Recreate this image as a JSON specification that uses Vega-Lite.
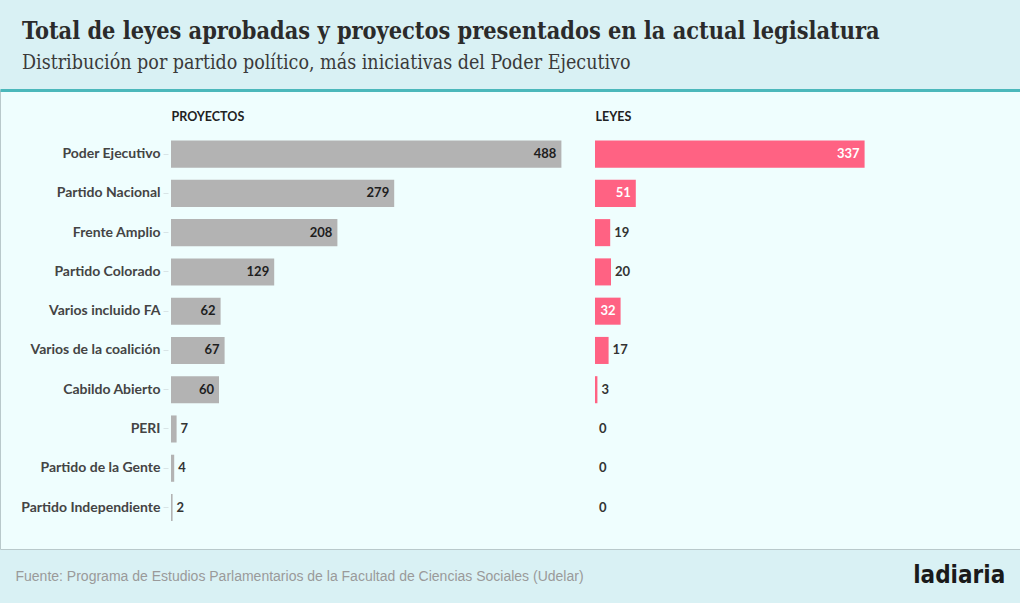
{
  "$schema": "https://vega.github.io/schema/vega-lite/v6.json",
  "width": 1020,
  "height": 459,
  "padding": {"top": 20, "bottom": 17, "left": 0, "right": 0},
  "autosize": {"type": "pad"},
  "background": "#d9f1f4",
  "title": {
    "text": "Total de leyes aprobadas y proyectos presentados en la actual legislatura",
    "subtitle": "Distribución por partido político, más iniciativas del Poder Ejecutivo",
    "anchor": "start",
    "frame": "group",
    "dx": 22,
    "offset": 17,
    "font": "DejaVu Serif Condensed",
    "fontSize": 23.3,
    "fontWeight": "bold",
    "color": "#2b2b2b",
    "subtitleFont": "DejaVu Serif Condensed",
    "subtitleFontSize": 19.5,
    "subtitleColor": "#3a3a3a",
    "subtitlePadding": 9
  },
  "data": {
    "values": [
      {"partido": "Poder Ejecutivo", "proyectos": 488, "leyes": 337},
      {"partido": "Partido Nacional", "proyectos": 279, "leyes": 51},
      {"partido": "Frente Amplio", "proyectos": 208, "leyes": 19},
      {"partido": "Partido Colorado", "proyectos": 129, "leyes": 20},
      {"partido": "Varios incluido FA", "proyectos": 62, "leyes": 32},
      {"partido": "Varios de la coalición", "proyectos": 67, "leyes": 17},
      {"partido": "Cabildo Abierto", "proyectos": 60, "leyes": 3},
      {"partido": "PERI", "proyectos": 7, "leyes": 0},
      {"partido": "Partido de la Gente", "proyectos": 4, "leyes": 0},
      {"partido": "Partido Independiente", "proyectos": 2, "leyes": 0}
    ]
  },
  "encoding": {
    "y": {
      "field": "partido",
      "type": "nominal",
      "sort": null,
      "scale": {"paddingInner": 0.311, "paddingOuter": 1.01, "align": 0.644},
      "axis": {
        "orient": "left",
        "offset": -168,
        "domain": false,
        "ticks": true,
        "tickSize": 5,
        "tickColor": "#d8e4e6",
        "labelPadding": 3,
        "labelFont": "Lato",
        "labelFontSize": 14,
        "labelFontWeight": "bold",
        "labelColor": "#444444",
        "labelLimit": 300,
        "title": null
      }
    }
  },
  "layer": [
    {
      "encoding": {
        "x": {
          "field": "proyectos",
          "type": "quantitative",
          "scale": {"domain": [0, 500], "range": [171, 571]},
          "axis": {
            "orient": "top",
            "domain": false,
            "ticks": false,
            "labels": false,
            "grid": false,
            "title": "PROYECTOS",
            "titleAnchor": "start",
            "titleAlign": "left",
            "titleBaseline": "middle",
            "titleY": 26,
            "titleFont": "Lato",
            "titleFontSize": 12.5,
            "titleFontWeight": "bold",
            "titleColor": "#222222"
          }
        }
      },
      "layer": [
        {"mark": {"type": "bar", "color": "#b3b3b3"}},
        {
          "transform": [{"filter": "datum.proyectos >= 25"}],
          "mark": {"type": "text", "align": "right", "baseline": "middle", "dx": -5, "font": "Lato", "fontSize": 13, "fontWeight": "bold", "color": "#1e1e1e"},
          "encoding": {"text": {"field": "proyectos", "type": "quantitative"}}
        },
        {
          "transform": [{"filter": "datum.proyectos < 25"}],
          "mark": {"type": "text", "align": "left", "baseline": "middle", "dx": 4, "font": "Lato", "fontSize": 13, "fontWeight": "bold", "color": "#333333"},
          "encoding": {"text": {"field": "proyectos", "type": "quantitative"}}
        }
      ]
    },
    {
      "encoding": {
        "x": {
          "field": "leyes",
          "type": "quantitative",
          "scale": {"domain": [0, 500], "range": [595, 995]},
          "axis": {
            "orient": "top",
            "domain": false,
            "ticks": false,
            "labels": false,
            "grid": false,
            "title": "LEYES",
            "titleAnchor": "start",
            "titleAlign": "left",
            "titleBaseline": "middle",
            "titleY": 26,
            "titleFont": "Lato",
            "titleFontSize": 12.5,
            "titleFontWeight": "bold",
            "titleColor": "#222222"
          }
        }
      },
      "layer": [
        {"mark": {"type": "bar", "color": "#ff6283"}},
        {
          "transform": [{"filter": "datum.leyes >= 25"}],
          "mark": {"type": "text", "align": "right", "baseline": "middle", "dx": -5, "font": "Lato", "fontSize": 13, "fontWeight": "bold", "color": "#ffffff"},
          "encoding": {"text": {"field": "leyes", "type": "quantitative"}}
        },
        {
          "transform": [{"filter": "datum.leyes < 25"}],
          "mark": {"type": "text", "align": "left", "baseline": "middle", "dx": 4, "font": "Lato", "fontSize": 13, "fontWeight": "bold", "color": "#333333"},
          "encoding": {"text": {"field": "leyes", "type": "quantitative"}}
        }
      ]
    },
    {
      "mark": {"type": "point", "opacity": 0, "size": 0},
      "encoding": {
        "x": {
          "datum": 0.5,
          "type": "quantitative",
          "scale": {"domain": [0, 1]},
          "axis": {
            "orient": "top",
            "domain": true,
            "domainColor": "#4bb8bb",
            "domainWidth": 3,
            "ticks": false,
            "labels": false,
            "grid": false,
            "title": null
          }
        }
      }
    },
    {
      "mark": {"type": "point", "opacity": 0, "size": 0},
      "encoding": {
        "x": {
          "datum": 0.5,
          "type": "quantitative",
          "scale": {"domain": [0, 1]},
          "axis": {
            "orient": "bottom",
            "domain": false,
            "ticks": false,
            "tickSize": 0,
            "grid": false,
            "values": [0.985],
            "labelExpr": "'ladiaria'",
            "labelAlign": "right",
            "labelBaseline": "middle",
            "labelPadding": 26,
            "labelFlush": false,
            "labelFont": "DejaVu Sans Condensed",
            "labelFontWeight": "bold",
            "labelFontSize": 24,
            "labelColor": "#1a1a1a",
            "title": "Fuente: Programa de Estudios Parlamentarios de la Facultad de Ciencias Sociales (Udelar)",
            "titleAnchor": "start",
            "titleAlign": "left",
            "titleBaseline": "middle",
            "titleX": 15,
            "titleY": 27,
            "titleFont": "Liberation Sans",
            "titleFontSize": 14,
            "titleFontWeight": "normal",
            "titleColor": "#9a9a9a"
          }
        }
      }
    }
  ],
  "resolve": {"scale": {"x": "independent"}, "axis": {"x": "independent"}},
  "config": {
    "view": {"fill": "#effefe", "stroke": "#b9c9cb"},
    "axis": {"grid": false}
  }
}
